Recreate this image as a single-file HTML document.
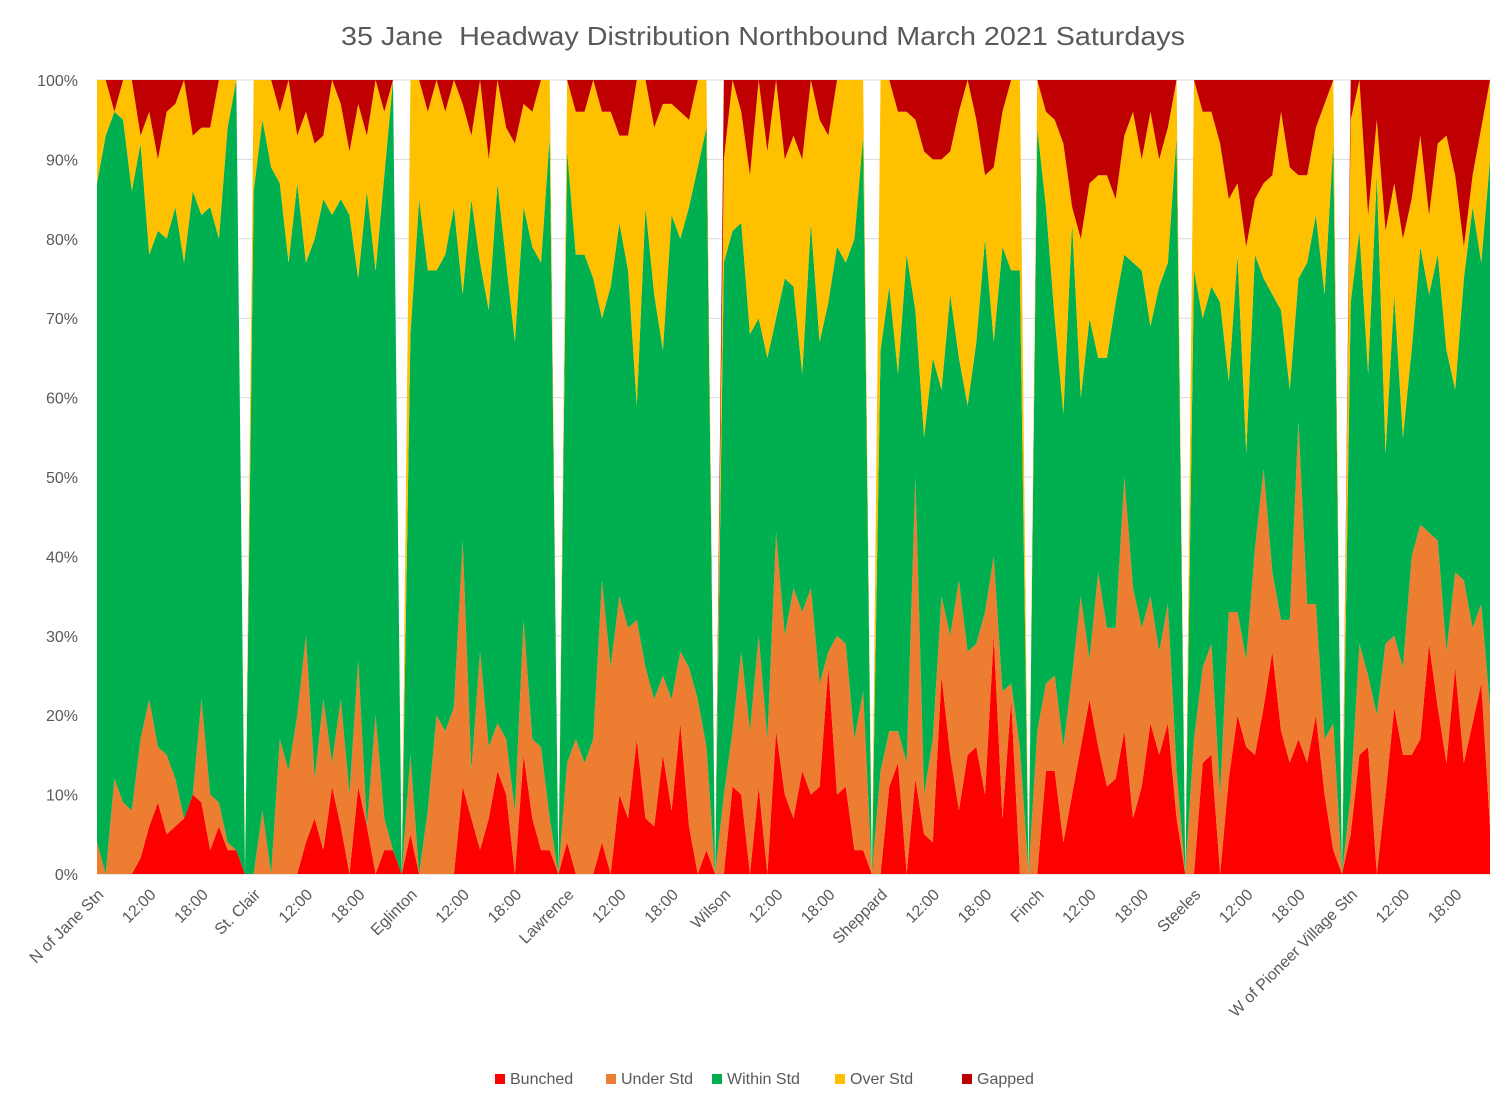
<!DOCTYPE html>
<html><head><meta charset="utf-8"><style>
body{margin:0;background:#fff;}
svg{display:block;font-family:"Liberation Sans",sans-serif;}
</style></head><body>
<svg id="chart" width="1509" height="1107" viewBox="0 0 1509 1107" xmlns="http://www.w3.org/2000/svg">
<rect width="1509" height="1107" fill="#fff"/>
<text x="341" y="45" font-size="26" fill="#595959" textLength="844" lengthAdjust="spacingAndGlyphs" xml:space="preserve">35 Jane  Headway Distribution Northbound March 2021 Saturdays</text>
<g id="grid"></g><g id="areas"></g><g id="yaxis"></g><g id="xaxis"></g>
<g font-size="16" fill="#595959">
<rect x="495" y="1074" width="10" height="10" fill="#FF0000"/><text x="510" y="1084">Bunched</text>
<rect x="606" y="1074" width="10" height="10" fill="#ED7D31"/><text x="621" y="1084">Under Std</text>
<rect x="712" y="1074" width="10" height="10" fill="#00B050"/><text x="727" y="1084">Within Std</text>
<rect x="835" y="1074" width="10" height="10" fill="#FFC000"/><text x="850" y="1084">Over Std</text>
<rect x="962" y="1074" width="10" height="10" fill="#C00000"/><text x="977" y="1084">Gapped</text>
</g>
</svg>
<script>
const stations = ["N of Jane Stn","St. Clair","Eglinton","Lawrence","Wilson","Sheppard","Finch","Steeles","W of Pioneer Village Stn"];
const bunched = [
0,0,0,0,0,2,6,9,5,6,7,10,9,3,6,3,3,0,
0,0,0,0,0,0,4,7,3,11,6,0,11,6,0,3,3,0,
5,0,0,0,0,0,11,7,3,7,13,10,0,15,7,3,3,0,
4,0,0,0,4,0,10,7,17,7,6,15,8,19,6,0,3,0,
0,11,10,0,11,0,18,10,7,13,10,11,26,10,11,3,3,0,
0,11,14,0,12,5,4,25,15,8,15,16,10,30,7,22,0,0,
0,13,13,4,10,16,22,16,11,12,18,7,11,19,15,19,7,0,
0,14,15,0,12,20,16,15,21,28,18,14,17,14,20,10,3,0,
5,15,16,0,10,21,15,15,17,29,21,14,26,14,19,24,6];
const underStd = [
4,0,12,9,8,15,16,7,10,6,0,0,13,7,3,1,0,0,
0,8,0,17,13,20,26,5,19,3,16,10,16,0,20,4,0,0,
10,0,8,20,18,21,31,6,25,9,6,7,8,17,10,13,4,0,
10,17,14,17,33,26,25,24,15,19,16,10,14,9,20,22,13,0,
10,7,18,18,19,17,25,20,29,20,26,13,2,20,18,14,20,0,
13,7,4,14,38,5,13,10,15,29,13,13,23,10,16,2,16,0,
18,11,12,12,15,19,5,22,20,19,32,29,20,16,13,15,6,0,
17,12,14,10,21,13,11,26,30,10,14,18,40,20,14,7,16,0,
5,14,9,20,19,9,11,25,27,14,21,14,12,23,12,10,15];
const withinStd = [
83,93,84,86,78,75,56,65,65,72,70,76,61,74,71,90,97,0,
86,87,89,70,64,67,47,68,63,69,63,73,48,80,56,81,97,0,
53,85,68,56,60,63,31,72,49,55,68,60,59,52,62,61,86,0,
77,61,64,58,33,48,47,45,27,58,51,41,61,52,58,67,78,0,
67,63,54,50,40,48,27,45,38,30,46,43,44,49,48,63,70,0,
53,56,45,64,21,45,48,26,43,28,31,38,47,27,56,52,60,0,
76,60,45,42,57,25,43,27,34,41,28,41,45,34,46,43,80,0,
59,44,45,62,29,45,26,37,24,35,39,29,18,43,49,56,73,0,
62,52,38,68,24,43,29,26,35,30,36,38,23,38,53,43,69];
const overStd = [
13,7,0,5,14,1,18,9,16,13,23,7,11,10,20,6,0,0,
14,5,11,9,23,6,19,12,8,17,12,8,22,7,24,8,0,0,
32,15,20,24,18,16,24,8,23,19,13,17,25,13,17,23,7,0,
9,18,18,25,26,22,11,17,41,16,21,31,14,16,11,11,6,0,
13,19,14,20,30,26,30,15,19,27,18,28,21,21,23,20,7,0,
34,26,33,18,24,36,25,29,18,31,41,28,8,22,17,24,24,0,
6,12,25,34,2,20,17,23,23,13,15,19,14,27,16,17,7,0,
24,26,22,20,23,9,26,7,12,15,25,28,13,11,11,24,8,0,
23,19,20,7,28,14,25,19,14,10,14,27,27,4,4,17,10];
const gapped = [
0,0,4,0,0,7,4,10,4,3,0,7,6,6,0,0,0,0,
0,0,0,4,0,7,4,8,7,0,3,9,3,7,0,4,0,0,
0,0,4,0,4,0,3,7,0,10,0,6,8,3,4,0,0,0,
0,4,4,0,4,4,7,7,0,0,6,3,3,4,5,0,0,0,
10,0,4,12,0,9,0,10,7,10,0,5,7,0,0,0,0,0,
0,0,4,4,5,9,10,10,9,4,0,5,12,11,4,0,0,0,
0,4,5,8,16,20,13,12,12,15,7,4,10,4,10,6,0,0,
0,4,4,8,15,13,21,15,13,12,4,11,12,12,6,3,0,0,
5,0,17,5,19,13,20,15,7,17,8,7,12,21,12,6,0];
const yTicks = [0,10,20,30,40,50,60,70,80,90,100];
const categories = [];
for (let i = 0; i < bunched.length; i++) {
  const k = Math.floor(i / 18), j = i % 18;
  categories.push(j === 0 ? stations[k] : (j < 17 ? (6 + j) + ":00" : ""));
}
const seriesList = [
  {name:"bunched", vals:bunched, color:"#FF0000"},
  {name:"under-std", vals:underStd, color:"#ED7D31"},
  {name:"within-std", vals:withinStd, color:"#00B050"},
  {name:"over-std", vals:overStd, color:"#FFC000"},
  {name:"gapped", vals:gapped, color:"#C00000"}
];
const X0 = 97, X1 = 1490, Y0 = 874, Y1 = 80;
const n = categories.length;
function xScale(i){ return X0 + i * (X1 - X0) / (n - 1); }
function yScale(p){ return Y0 - p / 100 * (Y0 - Y1); }
const NS = "http://www.w3.org/2000/svg";
const grid = document.getElementById("grid");
const yaxis = document.getElementById("yaxis");
yTicks.forEach(t => {
  const l = document.createElementNS(NS, "line");
  
  
  l.setAttribute("x1", X0); l.setAttribute("x2", X1);
  l.setAttribute("y1", yScale(t)); l.setAttribute("y2", yScale(t));
  l.setAttribute("stroke", t === 0 ? "#d0d0d0" : "#d9d9d9"); l.setAttribute("stroke-width", "1");
  grid.appendChild(l);
  const tx = document.createElementNS(NS, "text");
  
  
  tx.setAttribute("x", 78); tx.setAttribute("y", yScale(t) + 6);
  tx.setAttribute("text-anchor", "end"); tx.setAttribute("font-size", "16"); tx.setAttribute("fill", "#595959");
  tx.textContent = t + "%";
  yaxis.appendChild(tx);
});
const areas = document.getElementById("areas");
const cum = new Array(n).fill(0);
seriesList.forEach(s => {
  const lower = cum.slice();
  for (let i = 0; i < n; i++) cum[i] += s.vals[i];
  let d = "";
  for (let i = 0; i < n; i++) d += (i ? "L" : "M") + xScale(i).toFixed(2) + "," + yScale(cum[i]).toFixed(2);
  for (let i = n - 1; i >= 0; i--) d += "L" + xScale(i).toFixed(2) + "," + yScale(lower[i]).toFixed(2);
  d += "Z";
  const p = document.createElementNS(NS, "path");
  
  
  p.setAttribute("d", d); p.setAttribute("fill", s.color);
  areas.appendChild(p);
});
const xaxis = document.getElementById("xaxis");
categories.forEach((c, i) => {
  if (i % 6 !== 0 || !c) return;
  const x = xScale(i), y = 892;
  const tx = document.createElementNS(NS, "text");
  
  
  tx.setAttribute("x", x + 4); tx.setAttribute("y", y + 5);
  tx.setAttribute("text-anchor", "end"); tx.setAttribute("font-size", "16"); tx.setAttribute("fill", "#595959");
  tx.setAttribute("transform", "rotate(-45 " + (x + 4) + " " + y + ")");
  tx.textContent = c;
  xaxis.appendChild(tx);
});
</script>
</body></html>
